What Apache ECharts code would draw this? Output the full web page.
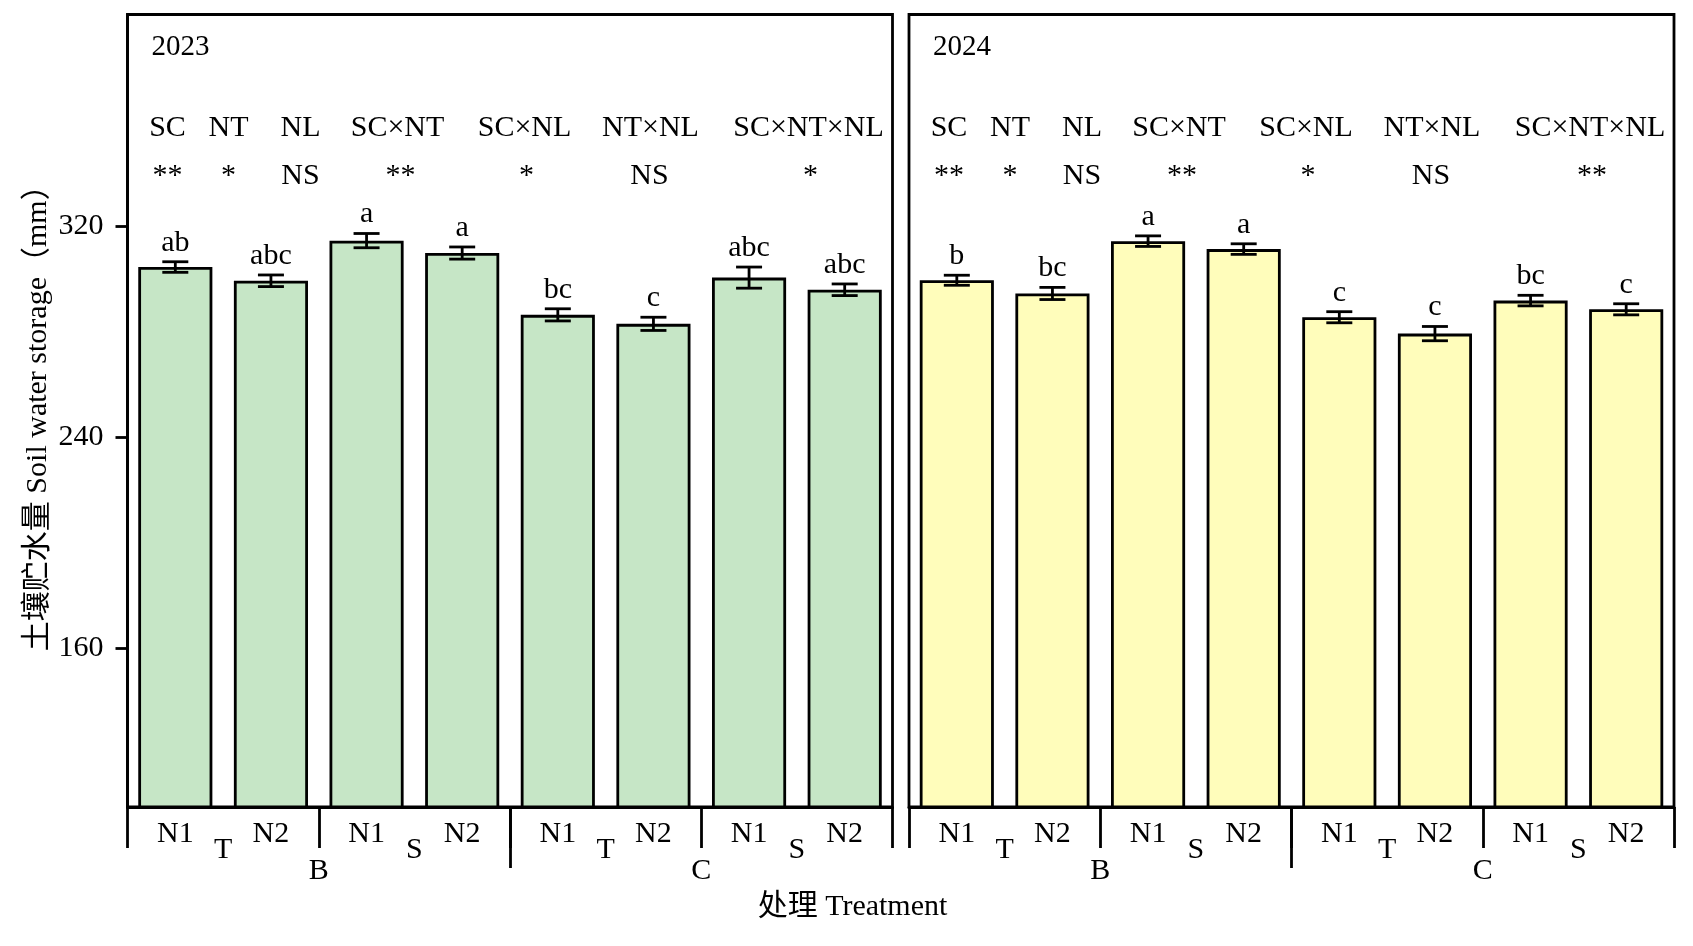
<!DOCTYPE html>
<html>
<head>
<meta charset="utf-8">
<title>Soil water storage</title>
<script src="https://cdn.jsdelivr.net/npm/echarts@6/dist/echarts.min.js"></script>
<style>
html, body { margin: 0; padding: 0; background: #fff; }
#main { width: 1693px; height: 946px; }
</style>
</head>
<body>
<div id="main"></div>
<script>
// 数据
var treatments = ['N1', 'N2', 'N1', 'N2', 'N1', 'N2', 'N1', 'N2'];
var subGroups = ['T', 'S', 'T', 'S'];
var mainGroups = ['', 'B', '', 'C', ''];
var yTicks = [160, 240, 320];
var years = ['2023', '2024'];

var swc2023 = [304.4, 299.2, 314.4, 309.7, 286.3, 282.9, 300.4, 295.8];
var err2023 = [2.0, 2.2, 2.7, 2.3, 2.3, 2.5, 4.0, 2.2];
var letters2023 = ['ab', 'abc', 'a', 'a', 'bc', 'c', 'abc', 'abc'];

var swc2024 = [299.4, 294.4, 314.2, 311.2, 285.4, 279.2, 291.7, 288.4];
var err2024 = [1.9, 2.3, 2.0, 2.0, 2.1, 2.7, 2.0, 2.1];
var letters2024 = ['b', 'bc', 'a', 'a', 'c', 'c', 'bc', 'c'];

var factors = ['SC', 'NT', 'NL', 'SC×NT', 'SC×NL', 'NT×NL', 'SC×NT×NL'];
var sig2023 = ['**', '*', 'NS', '**', '*', 'NS', '*'];
var sig2024 = ['**', '*', 'NS', '**', '*', 'NS', '**'];

// 版面
var FONT = "'Liberation Serif', 'Times New Roman', 'Noto Sans CJK SC', serif";
var FS = 30;
var panelLeft = [127.5, 909];
var panelWidth = 765;
var gridTop = 14.5;
var gridHeight = 792.5;
var factorX = [40, 101, 173, 270, 397, 523, 681];
var sigX = [40, 101, 173, 273, 399, 522, 683];
var barColors = ['#c6e6c6', '#fffdbb'];
var LW = 2.8;

var myChart = echarts.init(document.getElementById('main'));

function textStyle(size) {
	return { color: '#000', fontSize: size, fontFamily: FONT };
}

// 误差线 + 字母
function makeErrorBars(letters) {
	return function (params, api) {
		var x = api.value(0);
		var v = api.value(1);
		var e = api.value(2);
		var hi = api.coord([x, v + e]);
		var lo = api.coord([x, v - e]);
		var half = 13;
		var st = { stroke: '#000', lineWidth: LW };
		return {
			type: 'group',
			children: [
				{ type: 'line', shape: { x1: hi[0], y1: hi[1], x2: lo[0], y2: lo[1] }, style: st },
				{ type: 'line', shape: { x1: hi[0] - half, y1: hi[1], x2: hi[0] + half, y2: hi[1] }, style: st },
				{ type: 'line', shape: { x1: lo[0] - half, y1: lo[1], x2: lo[0] + half, y2: lo[1] }, style: st },
				{
					type: 'text', x: hi[0], y: hi[1] - 19,
					style: { text: letters[params.dataIndex], fill: '#000', font: FS + 'px ' + FONT, align: 'center', verticalAlign: 'middle' }
				}
			]
		};
	};
}

var grids = [];
var xAxes = [];
var yAxes = [];
var series = [];
var graphics = [];

var allVals = [swc2023, swc2024];
var allErrs = [err2023, err2024];
var allLetters = [letters2023, letters2024];
var allSig = [sig2023, sig2024];

for (var p = 0; p < 2; p++) {
	// 三层网格叠放：柱 / T-S / B-C
	for (var k = 0; k < 3; k++) {
		var g = p * 3 + k;
		grids.push({
			left: panelLeft[p], top: gridTop, width: panelWidth, height: gridHeight,
			show: k === 0, borderColor: '#000', borderWidth: LW,
			backgroundColor: 'transparent', containLabel: false, outerBoundsMode: 'none'
		});
		yAxes.push({
			type: 'value', gridIndex: g, min: 100, max: 400,
			show: g === 0,
			name: g === 0 ? '土壤贮水量 Soil water storage（mm）' : '',
			nameLocation: 'middle', nameRotate: 90, nameGap: 74,
			nameTextStyle: textStyle(FS),
			axisLine: { show: true, lineStyle: { color: '#000', width: LW } },
			axisTick: { show: true, length: 12, customValues: yTicks, lineStyle: { color: '#000', width: LW } },
			axisLabel: { customValues: yTicks, margin: 24, color: '#000', fontSize: FS, fontFamily: FONT },
			splitLine: { show: false }
		});
	}
	// 第一层 N1/N2
	xAxes.push({
		type: 'category', gridIndex: p * 3, data: treatments, position: 'bottom',
		axisLine: { lineStyle: { color: '#000', width: LW } },
		axisTick: { length: 20, lineStyle: { color: '#000', width: LW } },
		axisLabel: { interval: 0, margin: 12, color: '#000', fontSize: FS, fontFamily: FONT }
	});
	// 第二层 T/S
	xAxes.push({
		type: 'category', gridIndex: p * 3 + 1, data: subGroups, position: 'bottom',
		axisLine: { show: false },
		axisTick: { show: true, length: 41, lineStyle: { color: '#000', width: LW } },
		axisLabel: { interval: 0, margin: 28, color: '#000', fontSize: FS, fontFamily: FONT }
	});
	// 第三层 B/C
	xAxes.push({
		type: 'category', gridIndex: p * 3 + 2, data: mainGroups, position: 'bottom', boundaryGap: false,
		axisLine: { show: false },
		axisTick: { show: true, length: 61, interval: function (idx) { return idx === 2; }, lineStyle: { color: '#000', width: LW } },
		axisLabel: { interval: 0, margin: 49, color: '#000', fontSize: FS, fontFamily: FONT }
	});

	series.push({
		name: years[p], type: 'bar', xAxisIndex: p * 3, yAxisIndex: p * 3,
		data: allVals[p], barCategoryGap: '22.5%',
		itemStyle: { color: barColors[p], borderColor: '#000', borderWidth: LW },
		silent: true, z: 2
	});
	var eb = [];
	for (var i = 0; i < allVals[p].length; i++) {
		eb.push([i, allVals[p][i], allErrs[p][i]]);
	}
	series.push({
		name: years[p] + ' err', type: 'custom', xAxisIndex: p * 3, yAxisIndex: p * 3,
		renderItem: makeErrorBars(allLetters[p]), data: eb, silent: true, z: 3
	});

	// 年份 + 方差分析标注
	graphics.push({
		type: 'text', x: panelLeft[p] + 24, y: 47.5,
		style: { text: years[p], fill: '#000', font: '29px ' + FONT, align: 'left', verticalAlign: 'middle' }
	});
	for (var j = 0; j < factors.length; j++) {
		graphics.push({
			type: 'text', x: panelLeft[p] + factorX[j], y: 128.5,
			style: { text: factors[j], fill: '#000', font: FS + 'px ' + FONT, align: 'center', verticalAlign: 'middle' }
		});
		graphics.push({
			type: 'text', x: panelLeft[p] + sigX[j], y: 176,
			style: { text: allSig[p][j], fill: '#000', font: FS + 'px ' + FONT, align: 'center', verticalAlign: 'middle' }
		});
	}
}

graphics.push({
	type: 'text', x: 852.5, y: 907,
	style: { text: '处理 Treatment', fill: '#000', font: FS + 'px ' + FONT, align: 'center', verticalAlign: 'middle' }
});

option = {
	backgroundColor: '#fff',
	animation: false,
	grid: grids,
	xAxis: xAxes,
	yAxis: yAxes,
	series: series,
	graphic: graphics
};

myChart.setOption(option);
</script>
</body>
</html>
